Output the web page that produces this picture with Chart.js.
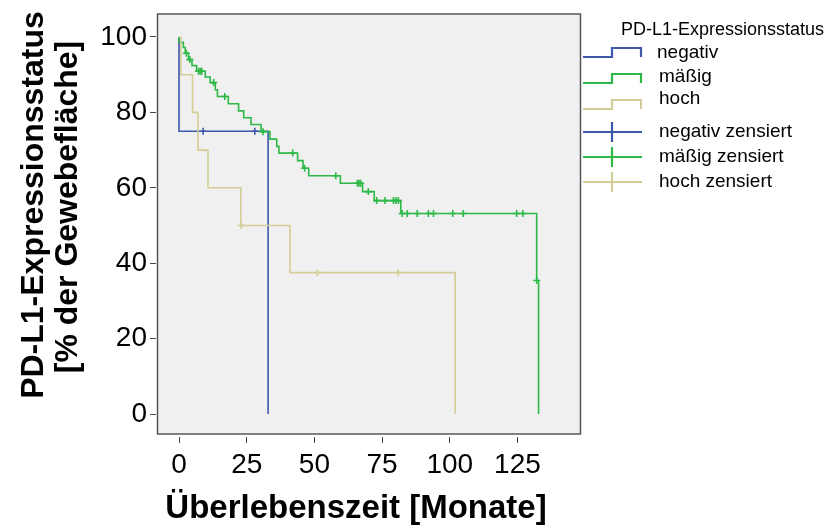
<!DOCTYPE html>
<html>
<head>
<meta charset="utf-8">
<script src="https://cdn.jsdelivr.net/npm/chart.js@4/dist/chart.umd.min.js"></script>
<style>
html,body{margin:0;padding:0;background:#fff;}
#wrap{width:833px;height:527px;position:relative;}
</style>
</head>
<body>
<div id="wrap"><canvas id="c" width="833" height="527"></canvas></div>
<script>
// ---- data ----
const xTicks = [0, 25, 50, 75, 100, 125];
const yTicks = [0, 20, 40, 60, 80, 100];

const seriesNames = ['negativ', 'mäßig', 'hoch'];
const censorNames = ['negativ zensiert', 'mäßig zensiert', 'hoch zensiert'];
const legendTitle = 'PD-L1-Expressionsstatus';
const xTitle = 'Überlebenszeit [Monate]';
const yTitle = ['PD-L1-Expressionsstatus', '[% der Gewebefläche]'];

// negativ
const negTime = [0, 0, 32.9];
const negSurv = [100, 75, 0];
const negCensTime = [8.9, 28.0];
const negCensSurv = [75, 75];

// mäßig
const modTime = [0, 0, 1.6, 2.3, 3.5, 4.8, 6.5, 9.7, 11.5, 13.4, 14.2, 18.2, 22.0, 23.9, 26.6, 30.3, 33.6, 36.1, 36.9, 43.8, 45.8, 47.9, 59.6, 67.8, 72.1, 81.9, 132.1, 132.8];
const modSurv = [100, 98.6, 97.2, 95.7, 94.0, 92.4, 90.9, 89.4, 87.9, 86.0, 84.2, 82.3, 80.4, 78.6, 76.8, 74.9, 72.9, 71.0, 69.2, 67.2, 65.2, 63.2, 61.2, 59.0, 56.6, 53.2, 35.4, 0];
const modCensTime = [2.7, 4.0, 7.2, 7.8, 8.4, 12.8, 16.9, 31.0, 42.0, 46.4, 57.9, 65.9, 66.5, 67.1, 69.9, 73.0, 76.1, 79.2, 80.1, 81.0, 82.4, 84.3, 88.0, 92.1, 94.0, 101.1, 105.0, 124.7, 127.0, 132.1];
const modCensSurv = [95.7, 94.0, 90.9, 90.9, 90.9, 87.9, 84.2, 74.9, 69.2, 65.2, 63.2, 61.2, 61.2, 61.2, 59.0, 56.6, 56.6, 56.6, 56.6, 56.6, 53.2, 53.2, 53.2, 53.2, 53.2, 53.2, 53.2, 53.2, 53.2, 35.4];

// hoch
const highTime = [0, 0.7, 5.0, 7.0, 10.7, 22.8, 41.0, 102.0];
const highSurv = [100, 90, 80, 70, 60, 50, 37.5, 0];
const highCensTime = [23.0, 51.1, 81.0];
const highCensSurv = [50, 37.5, 37.5];

const colors = ['#3E58AC', '#2EB848', '#D3CE97'];

// ---- build datasets ----
const pts = (t, s) => t.map((v, i) => ({x: v, y: s[i]}));
const stepSets = [[negTime, negSurv], [modTime, modSurv], [highTime, highSurv]];
const censSets = [[negCensTime, negCensSurv], [modCensTime, modCensSurv], [highCensTime, highCensSurv]];

const datasets = [];
stepSets.forEach((d, i) => datasets.push({
  label: seriesNames[i], data: pts(d[0], d[1]), stepped: 'before',
  borderColor: colors[i], borderWidth: 1.6, pointRadius: 0, fill: false, tension: 0, order: 3 - i
}));
censSets.forEach((d, i) => datasets.push({
  label: censorNames[i], data: pts(d[0], d[1]), showLine: false,
  pointStyle: 'cross', pointRadius: 3.5, pointBorderWidth: 1.6,
  borderColor: colors[i], backgroundColor: colors[i], order: 3 - i
}));

const L = 158, T = 14, R = 580, B = 434;
const FONT = '"Liberation Sans", Arial, sans-serif';

const decor = {
  id: 'decor',
  beforeDraw(chart) {
    const {ctx} = chart;
    const a = chart.chartArea;
    ctx.save();
    ctx.fillStyle = '#fff';
    ctx.fillRect(0, 0, chart.width, chart.height);
    ctx.fillStyle = '#F0F0F0';
    ctx.fillRect(a.left, a.top, a.right - a.left, a.bottom - a.top);
    ctx.restore();
  },
  afterDraw(chart) {
    const {ctx} = chart;
    const a = chart.chartArea;
    ctx.save();
    // frame
    ctx.strokeStyle = '#555';
    ctx.lineWidth = 1.5;
    ctx.strokeRect(a.left - 0.5, a.top, a.right - a.left + 1, a.bottom - a.top);
    // axis titles
    ctx.fillStyle = '#000';
    ctx.textAlign = 'center';
    ctx.textBaseline = 'middle';
    ctx.font = 'bold 33px ' + FONT;
    ctx.fillText(xTitle, 356, 509);
    ctx.font = 'bold 32px ' + FONT;
    ctx.save();
    ctx.translate(34, 205);
    ctx.rotate(-Math.PI / 2);
    ctx.fillText(yTitle[0], 0, 0);
    ctx.restore();
    ctx.save();
    ctx.translate(68, 207);
    ctx.rotate(-Math.PI / 2);
    ctx.fillText(yTitle[1], 0, 0);
    ctx.restore();
    // legend
    ctx.textAlign = 'left';
    ctx.font = '18px ' + FONT;
    ctx.fillStyle = '#000';
    ctx.fillText(legendTitle, 621, 30);
    ctx.font = '19px ' + FONT;
    const stepRows = [{lo: 57, hi: 48, ty: 53}, {lo: 83, hi: 74, ty: 77}, {lo: 109, hi: 100, ty: 99}];
    ctx.lineWidth = 2.2;
    stepRows.forEach((r, i) => {
      ctx.strokeStyle = colors[i];
      ctx.beginPath();
      ctx.moveTo(583, r.lo);
      ctx.lineTo(612, r.lo);
      ctx.lineTo(612, r.hi);
      ctx.lineTo(641, r.hi);
      ctx.lineTo(641, r.lo);
      ctx.stroke();
      ctx.fillText(seriesNames[i], i === 0 ? 657 : 659, r.ty);
    });
    const censRows = [132, 157, 182];
    censRows.forEach((y, i) => {
      ctx.strokeStyle = colors[i];
      ctx.beginPath();
      ctx.moveTo(583, y);
      ctx.lineTo(642, y);
      ctx.moveTo(612, y - 10);
      ctx.lineTo(612, y + 10);
      ctx.stroke();
      ctx.fillText(censorNames[i], 659, y);
    });
    ctx.restore();
  }
};

new Chart(document.getElementById('c'), {
  type: 'line',
  data: {datasets},
  options: {
    responsive: false,
    animation: false,
    events: [],
    layout: {padding: {left: 0, top: T, right: 833 - R, bottom: 0}},
    plugins: {legend: {display: false}, tooltip: {enabled: false}, title: {display: false}},
    scales: {
      x: {
        type: 'linear', min: -7.76, max: 148.1,
        afterBuildTicks: s => { s.ticks = xTicks.map(v => ({value: v})); },
        afterFit: s => { s.height = 527 - B; s.paddingLeft = 0; s.paddingRight = 0; },
        border: {display: false},
        grid: {drawOnChartArea: false, drawTicks: true, tickLength: 9, tickColor: '#4a4a4a', tickWidth: 1, tickBorderDash: [6, 3], tickBorderDashOffset: 6},
        ticks: {color: '#000', font: {family: FONT, size: 28}, padding: 5, maxRotation: 0, autoSkip: false}
      },
      y: {
        type: 'linear', min: -5.3, max: 106.1,
        afterBuildTicks: s => { s.ticks = yTicks.map(v => ({value: v})); },
        afterFit: s => { s.width = L; s.paddingTop = 0; s.paddingBottom = 0; },
        border: {display: false},
        grid: {drawOnChartArea: false, drawTicks: true, tickLength: 8, tickColor: '#4a4a4a', tickWidth: 1, tickBorderDash: [6, 2]},
        ticks: {color: '#000', font: {family: FONT, size: 28}, padding: 3, autoSkip: false}
      }
    }
  },
  plugins: [decor]
});
</script>
</body>
</html>
